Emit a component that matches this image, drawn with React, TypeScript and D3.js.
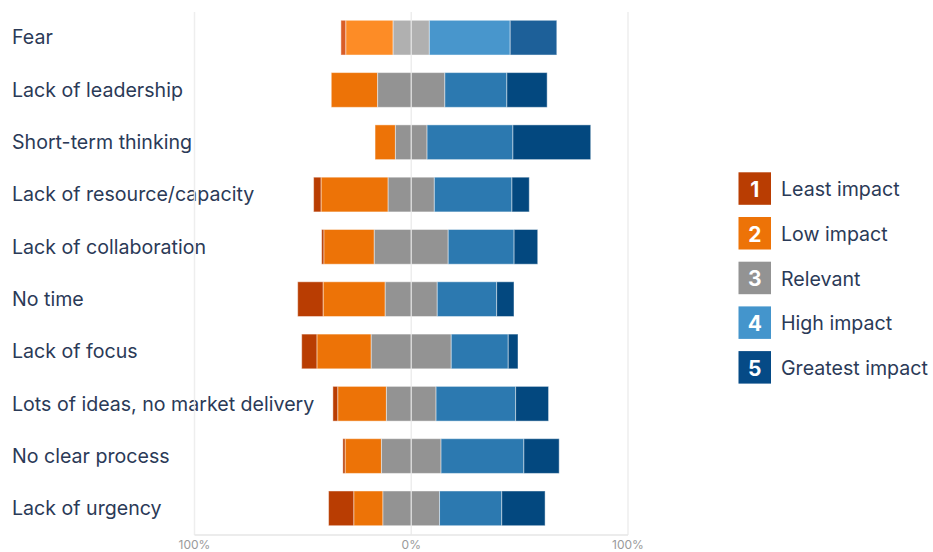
import React from "react";
import * as d3 from "d3";

const categories = [
  "Fear",
  "Lack of leadership",
  "Short-term thinking",
  "Lack of resource/capacity",
  "Lack of collaboration",
  "No time",
  "Lack of focus",
  "Lots of ideas, no market delivery",
  "No clear process",
  "Lack of urgency",
];
const leastImpact = [2.3, 0, 0, 3.5, 1.1, 11.8, 7.1, 2.3, 1.1, 11.7];
const lowImpact = [21.8, 21.4, 9.4, 30.9, 23.2, 28.6, 25.0, 22.4, 16.7, 13.4];
const relevant = [16.7, 31.0, 14.6, 21.3, 34.1, 24.0, 36.9, 22.9, 27.5, 26.1];
const highImpact = [37.3, 28.6, 39.6, 35.8, 30.4, 27.4, 26.3, 36.7, 38.2, 28.7];
const greatestImpact = [21.5, 18.6, 35.9, 8.0, 10.9, 8.0, 4.5, 15.2, 16.3, 20.0];
const legendLabels = ["Least impact", "Low impact", "Relevant", "High impact", "Greatest impact"];
const tickValues = [-100, 0, 100];

const colors = ["#b93d02", "#ed7307", "#939393", "#2c79b0", "#03487f"];
const highlightColors = ["#d95d27", "#fd8c26", "#b0b0b0", "#4896cc", "#1d6099"];
const legendColors = ["#b93d02", "#ed7307", "#939393", "#4495cc", "#054a86"];

export default function App() {
  const W = 933;
  const H = 552;
  const x = d3.scaleLinear().domain([-100, 100]).range([194.5, 628]);
  const y = d3
    .scaleBand<string>()
    .domain(categories)
    .range([11.5, 534.5])
    .paddingInner(0.336)
    .paddingOuter(0.168);

  const series = [leastImpact, lowImpact, relevant, highImpact, greatestImpact];

  const rows = categories.map((c, i) => {
    const vals = series.map((s) => s[i]);
    let start = -(vals[0] + vals[1] + vals[2] / 2);
    const segs = vals.map((v, k) => {
      const s = { k, x0: start, x1: start + v };
      start += v;
      return s;
    });
    return { c, i, segs };
  });

  const fontText = "Inter, 'Liberation Sans', Arial, sans-serif";

  return (
    <svg width={W} height={H} style={{ position: "absolute", left: 0, top: 0 }}>
      <rect width={W} height={H} fill="#fff" />
      {rows.map((r) => (
        <text
          key={r.c}
          x={12}
          y={(y(r.c) as number) + y.bandwidth() / 2 + 6.8}
          fontFamily={fontText}
          fontSize={19.6}
          fill="#2b3a57"
        >
          {r.c}
        </text>
      ))}
      {tickValues
        .filter((t) => t !== 0)
        .map((t) => (
          <line key={t} x1={x(t)} x2={x(t)} y1={12} y2={535} stroke="#ececec" strokeOpacity={0.9} strokeWidth={1.5} />
        ))}
      <line x1={x(-100)} x2={x(100)} y1={535} y2={535} stroke="#e6e6e6" strokeWidth={1.5} />
      {rows.map((r) => (
        <g key={r.c}>
          {r.segs
            .filter((s) => s.x1 - s.x0 > 0)
            .map((s) => (
              <rect
                key={s.k}
                x={x(s.x0)}
                y={y(r.c)}
                width={x(s.x1) - x(s.x0)}
                height={y.bandwidth()}
                fill={r.i === 0 ? highlightColors[s.k] : colors[s.k]}
                stroke="#ffffff"
                strokeOpacity={0.45}
                strokeWidth={1}
              />
            ))}
        </g>
      ))}
      <line x1={x(0)} x2={x(0)} y1={12} y2={535} stroke="#e8e8e8" strokeOpacity={0.8} strokeWidth={1.5} />
      {tickValues.map((t) => (
        <text
          key={t}
          x={x(t)}
          y={549}
          textAnchor="middle"
          fontFamily={fontText}
          fontSize={12}
          fill="#9a9a9a"
        >
          {Math.abs(t) + "%"}
        </text>
      ))}
      {legendLabels.map((l, k) => {
        const ly = 172.3 + k * 44.7;
        return (
          <g key={l}>
            <rect x={738.5} y={ly} width={32.5} height={32.5} fill={legendColors[k]} />
            <text
              x={754.75}
              y={ly + 24.5}
              textAnchor="middle"
              fontFamily={fontText}
              fontWeight="bold"
              fontSize={21}
              fill="#ffffff"
            >
              {k + 1}
            </text>
            <text x={781} y={ly + 24} fontFamily={fontText} fontSize={19.6} fill="#2b3a57">
              {l}
            </text>
          </g>
        );
      })}
    </svg>
  );
}
